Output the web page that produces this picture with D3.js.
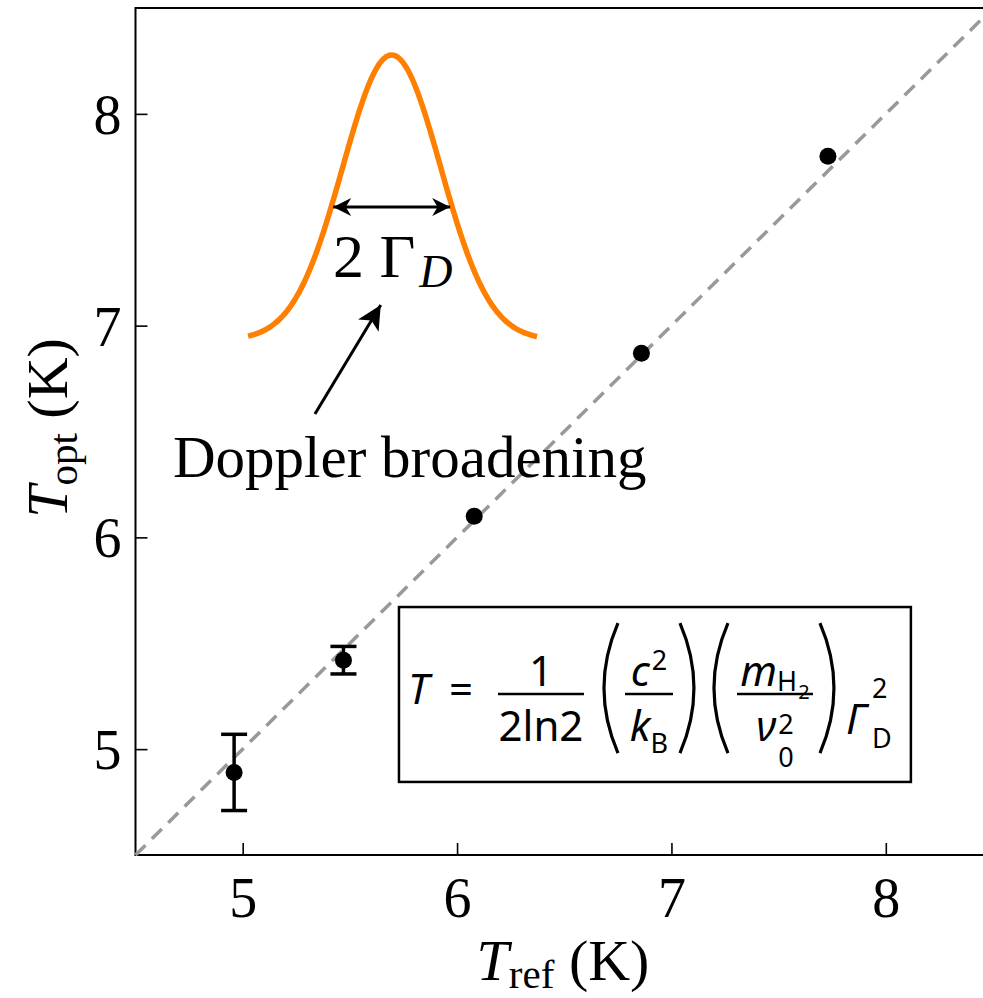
<!DOCTYPE html>
<html><head><meta charset="utf-8">
<script src="https://cdn.jsdelivr.net/npm/d3@7"></script>
<style>body{margin:0;background:#fff;} svg{display:block;}</style>
</head><body>
<svg id="chart" width="983" height="998"></svg>
<script>
// ---- data ----
const tRef = [4.96, 5.47, 6.08, 6.86, 7.73];
const tOpt = [4.89, 5.42, 6.10, 6.87, 7.80];
const tOptErr = [0.18, 0.065, null, null, null];
const xTicks = [5, 6, 7, 8];
const yTicks = [5, 6, 7, 8];
const xDomain = [4.5, 8.5];
const yDomain = [4.5, 8.5];
const diagLine = [4.5, 8.5];

// inset (in data units)
const gauss = {center: 5.695, sigma: 0.2285, peak: 8.278, base: 6.932, from: 5.025, to: 6.373};
const widthArrow = {y: 7.56};
const dopplerArrow = {x0: 5.337, y0: 6.583, x1: 5.644, y1: 7.097};
const dopplerText = {x: 4.675, y: 6.285, label: "Doppler broadening"};
const gammaText = {x: 5.421, y: 7.23};
const formulaBox = {x0: 5.729, x1: 8.117, y0: 5.671, y1: 4.845};

const svg = d3.select("#chart");
const x = d3.scaleLinear().domain(xDomain).range([135.5, 993]);
const y = d3.scaleLinear().domain(yDomain).range([855, 8]);
const serif = "'Liberation Serif','Times New Roman',serif";
const sans = "'Noto Sans','Open Sans',sans-serif";

// frame
svg.append("rect").attr("x", x(xDomain[0])).attr("y", y(yDomain[1]))
  .attr("width", x(xDomain[1]) - x(xDomain[0])).attr("height", y(yDomain[0]) - y(yDomain[1]))
  .attr("fill", "none").attr("stroke", "#000").attr("stroke-width", 2);

// axes (ticks inward)
const xAxis = d3.axisBottom(x).tickValues(xTicks).tickSize(-12).tickPadding(22).tickFormat(d3.format("d"));
const gx = svg.append("g").attr("transform", `translate(0,${y(yDomain[0])})`).call(xAxis);
const yAxis = d3.axisLeft(y).tickValues(yTicks).tickSize(-12).tickPadding(14).tickFormat(d3.format("d"));
const gy = svg.append("g").attr("transform", `translate(${x(xDomain[0])},0)`).call(yAxis);
[gx, gy].forEach(g => {
  g.select(".domain").remove();
  g.selectAll(".tick line").attr("stroke", "#000").attr("stroke-width", 1.6);
  g.selectAll(".tick text").attr("font-family", serif).attr("font-size", 56).attr("fill", "#000");
});
gx.selectAll(".tick text").attr("dy", "0.71em");
gy.selectAll(".tick text").attr("dy", "0.35em");

// axis labels
const xl = svg.append("text").attr("x", 563).attr("y", 980).attr("text-anchor", "middle")
  .attr("font-family", serif).attr("font-size", 58);
xl.append("tspan").attr("font-style", "italic").text("T");
xl.append("tspan").attr("font-size", 41).attr("dy", 8).text("ref");
xl.append("tspan").attr("dy", -8).text(" (K)");

const yl = svg.append("text").attr("transform", "translate(67,428) rotate(-90)").attr("text-anchor", "middle")
  .attr("font-family", serif).attr("font-size", 58);
yl.append("tspan").attr("font-style", "italic").text("T");
yl.append("tspan").attr("font-size", 41).attr("dy", 10).text("opt");
yl.append("tspan").attr("dy", -10).text(" (K)");

// diagonal dashed line
svg.append("line").attr("x1", x(diagLine[0])).attr("y1", y(diagLine[0]))
  .attr("x2", x(diagLine[1])).attr("y2", y(diagLine[1]))
  .attr("stroke", "#999").attr("stroke-width", 3.5).attr("stroke-dasharray", "14,9");

// error bars
const pts = tRef.map((v, i) => ({x: v, y: tOpt[i], e: tOptErr[i]}));
const eb = svg.append("g").attr("stroke", "#000").attr("stroke-width", 3.5);
pts.filter(d => d.e != null).forEach(d => {
  eb.append("line").attr("x1", x(d.x)).attr("x2", x(d.x)).attr("y1", y(d.y - d.e)).attr("y2", y(d.y + d.e));
  [d.y - d.e, d.y + d.e].forEach(v => eb.append("line")
    .attr("x1", x(d.x) - 13).attr("x2", x(d.x) + 13).attr("y1", y(v)).attr("y2", y(v)));
});
svg.append("g").selectAll("circle").data(pts).join("circle")
  .attr("cx", d => x(d.x)).attr("cy", d => y(d.y)).attr("r", 8.5).attr("fill", "#000");

// gaussian inset
const gx2 = d3.range(gauss.from, gauss.to + 1e-9, (gauss.to - gauss.from) / 200);
const gline = d3.line().x(d => x(d)).y(d => y(gauss.base + (gauss.peak - gauss.base) * Math.exp(-((d - gauss.center) ** 2) / (2 * gauss.sigma ** 2))))
  .curve(d3.curveBasis);
svg.append("path").attr("d", gline(gx2)).attr("fill", "none").attr("stroke", "#ff8000").attr("stroke-width", 5.5);

// double arrow at the level widthArrow.y
const frac = (widthArrow.y - gauss.base) / (gauss.peak - gauss.base);
const half = gauss.sigma * Math.sqrt(-2 * Math.log(frac));
const ax0 = x(gauss.center - half), ax1 = x(gauss.center + half), ay = y(widthArrow.y);
const defs = svg.append("defs");
defs.append("marker").attr("id", "ah").attr("viewBox", "0 0 10 10").attr("refX", 10).attr("refY", 5)
  .attr("markerWidth", 9).attr("markerHeight", 6).attr("markerUnits", "strokeWidth").attr("orient", "auto-start-reverse")
  .append("path").attr("d", "M0,0 L10,5 L0,10 L3,5 Z").attr("fill", "#000");
svg.append("line").attr("x1", ax0 + 2).attr("x2", ax1 - 2).attr("y1", ay).attr("y2", ay)
  .attr("stroke", "#000").attr("stroke-width", 3)
  .attr("marker-start", "url(#ah)").attr("marker-end", "url(#ah)");

const gt = svg.append("text").attr("x", x(gammaText.x)).attr("y", y(gammaText.y))
  .attr("font-family", serif).attr("font-size", 62);
gt.append("tspan").text("2 Γ");
gt.append("tspan").attr("font-style", "italic").attr("font-size", 46).attr("dx", 4).attr("dy", 10).text("D");

// doppler arrow
defs.append("marker").attr("id", "ah2").attr("viewBox", "0 0 10 10").attr("refX", 10).attr("refY", 5)
  .attr("markerWidth", 12).attr("markerHeight", 8).attr("markerUnits", "strokeWidth").attr("orient", "auto")
  .append("path").attr("d", "M0,0 L10,5 L0,10 L2.5,5 Z").attr("fill", "#000");
svg.append("line").attr("x1", x(dopplerArrow.x0)).attr("y1", y(dopplerArrow.y0))
  .attr("x2", x(dopplerArrow.x1)).attr("y2", y(dopplerArrow.y1))
  .attr("stroke", "#000").attr("stroke-width", 3).attr("marker-end", "url(#ah2)");
svg.append("text").attr("x", x(dopplerText.x)).attr("y", y(dopplerText.y))
  .attr("font-family", serif).attr("font-size", 59).text(dopplerText.label);

// formula box
const bx = x(formulaBox.x0), by = y(formulaBox.y0);
svg.append("rect").attr("x", bx).attr("y", by).attr("width", x(formulaBox.x1) - bx).attr("height", y(formulaBox.y1) - by)
  .attr("fill", "#fff").attr("stroke", "#000").attr("stroke-width", 2.5);
const f = svg.append("g").attr("transform", `translate(${bx},${by})`).attr("font-family", sans).attr("fill", "#000");
const M = 42, S = 27, SS = 20;

// piece: {s, size, it, dx (gap before), dy (baseline offset), stack (same x as previous script)}
function seq(parts, x0, base, anchor) {
  const g = f.append("g");
  let cur = 0, lastStart = 0, lastEnd = 0;
  parts.forEach(p => {
    const startX = p.stack ? lastStart : cur + (p.dx || 0);
    const e = g.append("text").attr("x", startX).attr("y", base + (p.dy || 0))
      .attr("font-size", p.size || M).attr("font-style", p.it ? "italic" : "normal").text(p.s);
    const w = e.node().getComputedTextLength();
    lastStart = startX;
    cur = Math.max(p.stack ? lastEnd : 0, startX + w);
    lastEnd = cur;
  });
  const shift = anchor === "middle" ? x0 - cur / 2 : x0;
  g.attr("transform", `translate(${shift},0)`);
  return cur;
}
function bar(x0, x1, yy) { f.append("line").attr("x1", x0).attr("x2", x1).attr("y1", yy).attr("y2", yy).attr("stroke", "#000").attr("stroke-width", 2.6); }
function paren(xt, xm, y0, y1) {
  const xc = 2 * xm - xt, ym = (y0 + y1) / 2;
  f.append("path").attr("d", `M${xt},${y0} Q${xc},${ym} ${xt},${y1}`).attr("fill", "none").attr("stroke", "#000").attr("stroke-width", 3.2);
}
seq([{s: "T", it: true}], 9, 97);
seq([{s: "="}], 50, 97);
// fraction 1
seq([{s: "1"}], 142, 79, "middle");
seq([{s: "2ln2"}], 142, 134, "middle");
bar(99, 185, 87);
// fraction 2
paren(219, 205, 16, 146);
seq([{s: "c", it: true}, {s: "2", size: S, dy: -16, dx: 2}], 250, 79, "middle");
seq([{s: "k", it: true}, {s: "B", size: S, dy: 12}], 250, 134, "middle");
bar(226, 274, 87);
paren(281, 295, 16, 146);
// fraction 3
paren(329, 315, 16, 146);
seq([{s: "m", it: true}, {s: "H", size: S, dy: 5}, {s: "2", size: SS, dy: 13, dx: 1}], 376, 79, "middle");
seq([{s: "ν", it: true}, {s: "2", size: S, dy: -7, dx: 2}, {s: "0", size: S, dy: 26, stack: true}], 376, 134, "middle");
bar(338, 414, 87);
paren(421, 435, 16, 146);
// Gamma_D^2
seq([{s: "Γ", it: true}, {s: "2", size: S, dy: -36, dx: 6}, {s: "D", size: S, dy: 14, stack: true}], 447, 127);
</script>
</body></html>
